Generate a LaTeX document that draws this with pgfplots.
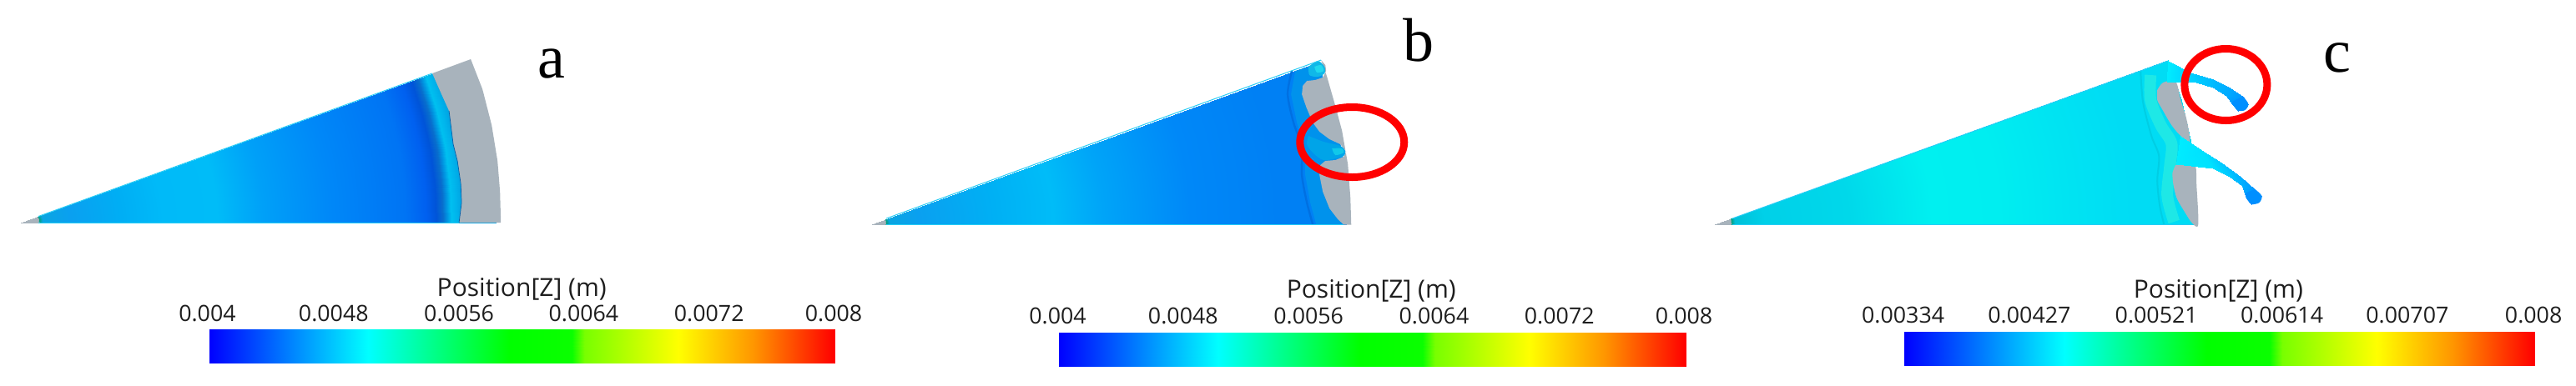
\documentclass[border=0pt]{standalone}
\usepackage{pgfplots}
\pgfplotsset{compat=1.18}
\usepackage{fontspec}
\setmainfont{Open Sans}
\newfontfamily\serifl{Liberation Serif}
\definecolor{grayz}{RGB}{168,179,188}
\definecolor{txt}{RGB}{30,30,30}
\definecolor{edgez}{RGB}{40,205,245}
\pgfplotsset{
 colormap={jetz}{rgb255(0pt)=(0,0,255) rgb255(254pt)=(0,255,255) rgb255(480pt)=(0,255,0) rgb255(580pt)=(10,255,0) rgb255(600pt)=(120,255,0) rgb255(750pt)=(255,255,0) rgb255(870pt)=(255,150,0) rgb255(1000pt)=(255,0,0)},
 colormap={fanA}{rgb255(0pt)=(168,179,188) rgb255(21pt)=(168,179,188) rgb255(22pt)=(0,160,128) rgb255(26pt)=(10,165,225) rgb255(60pt)=(10,160,240) rgb255(120pt)=(0,174,244) rgb255(170pt)=(0,186,248) rgb255(235pt)=(0,188,248) rgb255(290pt)=(0,160,248) rgb255(370pt)=(0,136,248) rgb255(460pt)=(0,116,244) rgb255(485pt)=(0,96,240) rgb255(497pt)=(0,84,216) rgb255(505pt)=(8,110,205) rgb255(510pt)=(0,150,226) rgb255(515pt)=(0,192,240) rgb255(521pt)=(0,180,236) rgb255(530pt)=(0,160,225) rgb255(1000pt)=(0,160,225)},
 colormap={fanB}{rgb255(0pt)=(168,179,188) rgb255(19pt)=(168,179,188) rgb255(20pt)=(0,160,128) rgb255(24pt)=(10,165,225) rgb255(60pt)=(10,160,240) rgb255(150pt)=(0,176,244) rgb255(220pt)=(0,188,248) rgb255(280pt)=(0,164,248) rgb255(384pt)=(0,136,248) rgb255(490pt)=(0,128,244) rgb255(1000pt)=(0,128,244)},
 colormap={fanC}{rgb255(0pt)=(168,179,188) rgb255(19pt)=(168,179,188) rgb255(20pt)=(0,160,128) rgb255(24pt)=(0,192,216) rgb255(60pt)=(0,208,232) rgb255(160pt)=(0,216,234) rgb255(260pt)=(0,240,240) rgb255(340pt)=(0,238,240) rgb255(420pt)=(0,228,242) rgb255(500pt)=(0,220,244) rgb255(1000pt)=(0,220,244)},
 mshade/.style={surf,shader=interp,point meta=explicit},
}
\tikzset{
 tk/.style={font=\fontsize{13.4}{16}\selectfont,text=txt,inner sep=0pt},
 ttl/.style={font=\fontsize{15}{18}\selectfont,text=txt,inner sep=0pt},
 ltr/.style={font=\serifl\fontsize{37}{40}\selectfont,text=black,inner sep=0pt,anchor=base},
}
\begin{document}
\begin{tikzpicture}
\path[use as bounding box] (0,0) rectangle (1543.5pt,231pt);
\begin{axis}[at={(0,0)},anchor=south west,hide axis,scale only axis,width=1543.5pt,height=231pt,
 xmin=0,xmax=3087,ymin=0,ymax=462,y dir=reverse,
 point meta min=0,point meta max=1000]
% --- panel a
\addplot[mshade,colormap name=fanA,mesh/rows=5,mesh/cols=2] table[meta=m]{
x y m
25 267 0
593 267 568
25 267 0
590.8 217.5 568
25 267 0
584.4 168.4 568
25 267 0
573.6 120 568
25 267 0
558.7 72.7 568
};
\addplot[fill=grayz,draw=none] coordinates{(517,88)(563,71)(577,107)(588,150)(595,193)(598,230)(599,267)(549,267)(552,243)(551,220)(547,193)(542,173)(540,157)(537,133)(528,113)} --cycle;
\addplot[color={rgb,255:red,0;green,96;blue,170},line width=0.35pt] coordinates{(537,133)(540,157)(542,173)(547,193)(551,220)(552,243)(549,267)};
\addplot[color=edgez,line width=0.5pt] coordinates{(46,259.5)(517,88)};
\addplot[color=edgez,line width=0.5pt] coordinates{(46,267)(549,267)};
% --- panel b
\addplot[mshade,colormap name=fanB,mesh/rows=5,mesh/cols=2] table[meta=m]{
x y m
1040 269.5 0
1610 269.5 570
1040 269.5 0
1607.8 219.8 570
1040 269.5 0
1601.3 170.5 570
1040 269.5 0
1590.6 122 570
1040 269.5 0
1575.6 74.6 570
};
\addplot[fill={rgb,255:red,0;green,146;blue,236},draw=none] coordinates{(1549,85)(1544,113)(1551,147)(1561,177)(1561,210)(1567,243)(1574,269)(1610,269)(1608,197)(1600,157)(1591,127)(1582,92)(1575,77)} --cycle;
\addplot[fill=grayz,draw=none] coordinates{(1580,72)(1587,92)(1597,127)(1605,157)(1612,197)(1615,237)(1616,269.5)(1607,269.5)(1600,263)(1590,250)(1582,230)(1578,210)(1579,198)(1585,193)(1597,192)(1607,188)(1610,182)(1603,173)(1590,167)(1578,158)(1570,147)(1562,128)(1557,113)(1558,103)(1563,97)(1573,96)(1582,93)(1586,85)(1585,78)} --cycle;
\addplot[smooth,fill={rgb,255:red,0;green,164;blue,232},draw=none] coordinates{(1565,163)(1583,170)(1603,175)(1609,182)(1605,188)(1583,192)(1570,183)(1563,173)(1565,163)};
\addplot[smooth,fill={rgb,255:red,16;green,200;blue,234},draw=none] coordinates{(1593,178)(1605,178)(1607,183)(1597,186)(1593,178)};
\addplot[smooth,fill={rgb,255:red,16;green,184;blue,232},draw=none] coordinates{(1565,80)(1576,73)(1584,80)(1584,88)(1576,92)(1566,90)(1565,80)};
\addplot[smooth,fill={rgb,255:red,32;green,216;blue,238},draw=none] coordinates{(1572,80)(1580,78)(1583,85)(1575,87)(1572,80)};
\addplot[smooth,color={rgb,255:red,0;green,112;blue,226},line width=1.2pt] coordinates{(1545,85)(1540,113)(1547,147)(1557,177)(1557,210)(1563,243)(1570,269)};
\addplot[color=edgez,line width=0.5pt] coordinates{(1060,262)(1580,72)};
\addplot[color=edgez,line width=0.5pt] coordinates{(1060,269.5)(1607,269.5)};
% --- panel c
\addplot[mshade,colormap name=fanC,mesh/rows=5,mesh/cols=2] table[meta=m]{
x y m
2051 269.3 0
2628 269.3 577
2051 269.3 0
2625.8 219 577
2051 269.3 0
2619.2 169.1 577
2051 269.3 0
2608.3 120 577
2051 269.3 0
2593.2 72 577
};
\addplot[smooth,color={rgb,255:red,30;green,232;blue,230},line width=7pt] coordinates{(2572,90)(2572,120)(2584,150)(2597,172)(2595,200)(2592,235)(2600,266)};
\addplot[smooth,color={rgb,255:red,0;green,206;blue,228},line width=1pt] coordinates{(2560,85)(2563,123)(2573,163)(2582,187)(2580,217)(2583,247)(2588,269)};
\addplot[smooth,fill=grayz,draw=none] coordinates{(2580,108)(2587,99)(2602,98)(2608,120)(2615,143)(2619,170)(2608,163)(2597,150)(2587,133)(2580,120)(2580,108)};
\addplot[smooth,fill=grayz,draw=none] coordinates{(2598,208)(2602,198)(2610,195)(2625,197)(2627,223)(2629,269)(2622,268)(2612,253)(2603,237)(2599,220)(2598,208)};
\addplot[mshade,mesh/rows=2,mesh/cols=6,colormap name=jetz] table[meta=m]{
x y m
2593 73 235
2620 87 205
2647 95 185
2667 105 170
2683 116 150
2689 125 140
2592 98 235
2627 99 205
2647 105 185
2663 115 170
2670 125 150
2677 133 140
};
\addplot[smooth,fill={rgb,255:red,0;green,143;blue,255},draw=none] coordinates{(2683,116)(2689,125)(2685,132)(2677,133)(2672,128)(2670,122)(2683,116)};
\addplot[mshade,mesh/rows=2,mesh/cols=6,colormap name=jetz] table[meta=m]{
x y m
2608 163 235
2633 180 225
2657 195 200
2680 212 175
2697 227 150
2705 235 140
2603 197 235
2647 202 225
2667 212 200
2682 223 175
2687 238 150
2693 245 140
};
\addplot[smooth,fill={rgb,255:red,0;green,143;blue,255},draw=none] coordinates{(2697,227)(2705,235)(2702,243)(2693,245)(2688,240)(2686,232)(2697,227)};
\addplot[color=edgez,line width=0.5pt] coordinates{(2072,262)(2593,73)};
\addplot[color=edgez,line width=0.5pt] coordinates{(2072,269.3)(2622,269.3)};
% --- colour bars
\addplot[mshade,colormap name=jetz,mesh/rows=2,mesh/cols=2] table[meta=m]{
x y m
250 395 0
998 395 1000
250 435 0
998 435 1000
};
\addplot[mshade,colormap name=jetz,mesh/rows=2,mesh/cols=2] table[meta=m]{
x y m
1266 399 0
2016 399 1000
1266 439 0
2016 439 1000
};
\addplot[mshade,colormap name=jetz,mesh/rows=2,mesh/cols=2] table[meta=m]{
x y m
2277 398 0
3031 398 1000
2277 438 0
3031 438 1000
};
% --- ellipses
\draw[red,line width=4.5pt] (axis cs:1617,170.5) ellipse [x radius=31.25pt,y radius=21pt];
\draw[red,line width=4.5pt] (axis cs:2662,101.5) ellipse [x radius=24.75pt,y radius=21.5pt];
% --- text
\node[ltr] at (axis cs:660,93) {a};
\node[ltr] at (axis cs:1697,73) {b};
\node[ltr] at (axis cs:2795,86) {c};
\node[ttl] at (axis cs:624,347) {Position[Z] (m)};
\node[ttl] at (axis cs:1640,349) {Position[Z] (m)};
\node[ttl] at (axis cs:2653,349) {Position[Z] (m)};
\node[tk] at (axis cs:248,376) {0.004};
\node[tk] at (axis cs:399,376) {0.0048};
\node[tk] at (axis cs:549,376) {0.0056};
\node[tk] at (axis cs:698,376) {0.0064};
\node[tk] at (axis cs:848,376) {0.0072};
\node[tk] at (axis cs:997,376) {0.008};
\node[tk] at (axis cs:1265,379) {0.004};
\node[tk] at (axis cs:1415,379) {0.0048};
\node[tk] at (axis cs:1565,379) {0.0056};
\node[tk] at (axis cs:1715,379) {0.0064};
\node[tk] at (axis cs:1865,379) {0.0072};
\node[tk] at (axis cs:2014,379) {0.008};
\node[tk] at (axis cs:2276,378) {0.00334};
\node[tk] at (axis cs:2427,378) {0.00427};
\node[tk] at (axis cs:2579,378) {0.00521};
\node[tk] at (axis cs:2729,378) {0.00614};
\node[tk] at (axis cs:2879,378) {0.00707};
\node[tk] at (axis cs:3030,378) {0.008};
\end{axis}
\end{tikzpicture}
\end{document}
